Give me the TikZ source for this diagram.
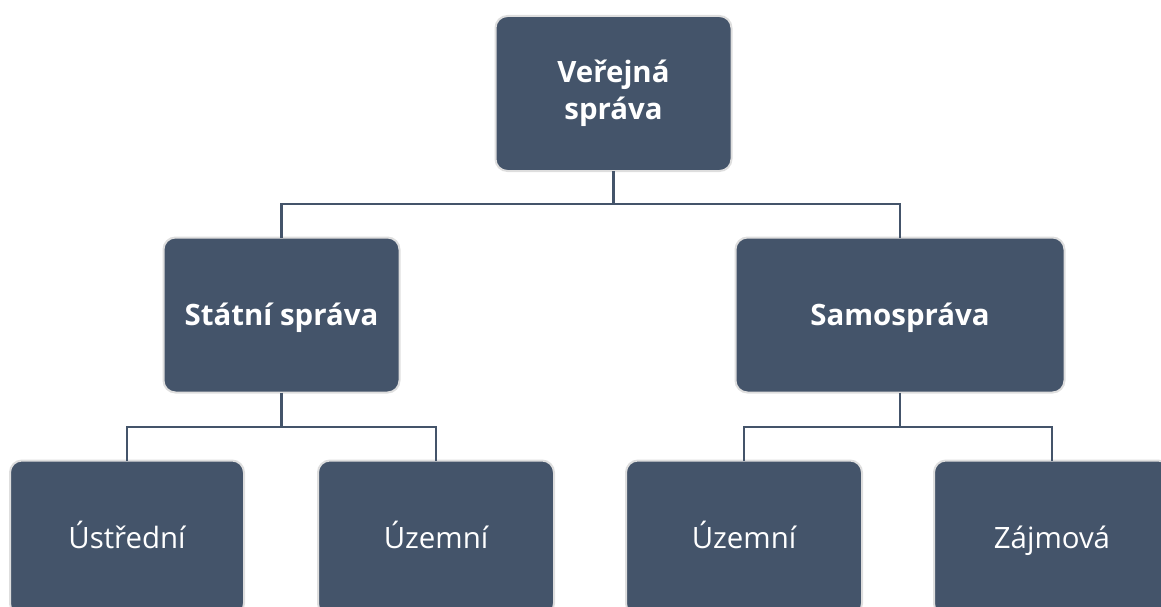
\documentclass[tikz,border=0pt]{standalone}
\usepackage{fontspec}
\setmainfont{Open Sans}
\usetikzlibrary{positioning}

\definecolor{slate}{HTML}{44546A}
\definecolor{rim}{HTML}{DEDEDE}

\tikzset{
  box/.style={draw=rim, line width=2pt, fill=slate, rounded corners=12pt,
    text=white, align=center, minimum width=236pt, minimum height=155pt,
    inner sep=0pt, outer sep=0pt, text height=21pt, text depth=0pt,
    font=\fontsize{29.4}{37}\selectfont},
  headbox/.style={box, font=\fontsize{29.4}{37}\selectfont\bfseries},
  link/.style={draw=slate, line width=2.2pt},
}

\begin{document}
\begin{tikzpicture}[x=1pt, y=-1pt]
  \useasboundingbox (0,0) rectangle (1161,607);
  \clip (0,0) rectangle (1161,607);

  % top of the tree (two lines, so no fixed text height)
  \node[headbox, text height=, text depth=] (verejna) at (613.5,93.5) {Veřejná\\správa};

  % second level
  \node[headbox] (statni) at (281.5,315) {Státní správa};
  \node[headbox, minimum width=329pt] (samo) at (900,315) {Samospráva};

  % bottom row, left to right
  \node[box, minimum width=234pt] (ustredni) at (127,538) {Ústřední};
  \node[box, right=74pt of ustredni] (uzemniA) {Územní};
  \node[box, right=72pt of uzemniA] (uzemniB) {Územní};
  \node[box, right=72pt of uzemniB] (zajmova) {Zájmová};

  % junctions of the connectors
  \coordinate (j0) at (613.5,204);
  \coordinate (j1) at (281.5,427);
  \coordinate (j2) at (900,427);

  \draw[link] (verejna.south) -- (j0) -| (statni.north);
  \draw[link] (j0) -| (samo.north);

  \draw[link] (statni.south) -- (j1) -| (ustredni.north);
  \draw[link] (j1) -| (uzemniA.north);

  \draw[link] (samo.south) -- (j2) -| (uzemniB.north);
  \draw[link] (j2) -| (zajmova.north);
\end{tikzpicture}
\end{document}
